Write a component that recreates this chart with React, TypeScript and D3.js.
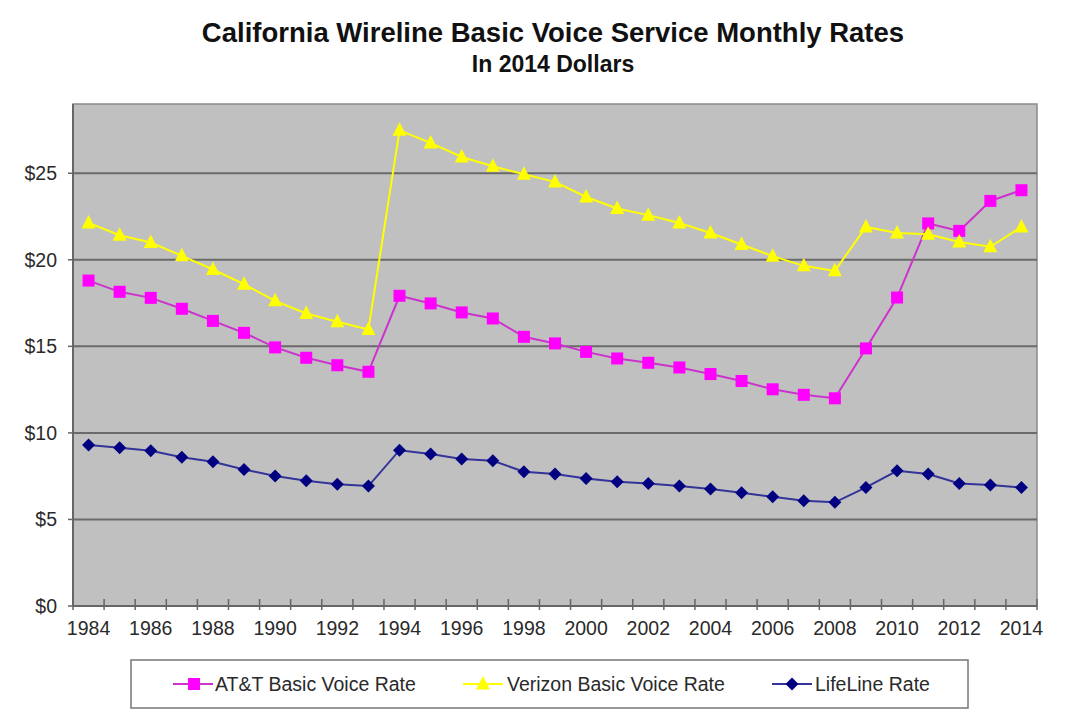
import React from "react";
import * as d3 from "d3";

const years: number[] = [
  1984, 1985, 1986, 1987, 1988, 1989, 1990, 1991, 1992, 1993, 1994, 1995, 1996, 1997, 1998, 1999,
  2000, 2001, 2002, 2003, 2004, 2005, 2006, 2007, 2008, 2009, 2010, 2011, 2012, 2013, 2014,
];

const attRates: number[] = [
  18.8, 18.15, 17.8, 17.17, 16.47, 15.78, 14.94, 14.34, 13.91, 13.53, 17.92, 17.48, 16.96, 16.61, 15.55, 15.17,
  14.68, 14.3, 14.05, 13.78, 13.4, 13.0, 12.52, 12.2, 12.0, 14.88, 17.82, 22.1, 21.67, 23.4, 24.02,
];

const verizonRates: number[] = [
  22.13, 21.42, 21.0, 20.23, 19.44, 18.59, 17.63, 16.9, 16.42, 15.97, 27.48, 26.75, 25.94, 25.4, 24.94, 24.5,
  23.63, 22.96, 22.58, 22.13, 21.55, 20.88, 20.21, 19.65, 19.36, 21.9, 21.55, 21.48, 21.03, 20.75, 21.9,
];

const lifelineRates: number[] = [
  9.3, 9.14, 8.97, 8.59, 8.33, 7.89, 7.51, 7.24, 7.03, 6.93, 9.0, 8.78, 8.49, 8.39, 7.76, 7.62,
  7.37, 7.18, 7.08, 6.93, 6.76, 6.54, 6.31, 6.08, 5.99, 6.85, 7.81, 7.62, 7.08, 6.99, 6.85,
];

const yTicks: number[] = [0, 5, 10, 15, 20, 25];
const yMax = 29;

const title = "California Wireline Basic Voice Service Monthly Rates";
const subtitle = "In 2014 Dollars";

const seriesNames: string[] = ["AT&T Basic Voice Rate", "Verizon Basic Voice Rate", "LifeLine Rate"];

const W = 1078;
const H = 715;
const plot = { left: 73, right: 1037, top: 104, bottom: 606 };

const FONT = "'Liberation Sans', Arial, Helvetica, sans-serif";

type Shape = "square" | "triangle" | "diamond";

function Marker({ shape, x, y, fill }: { shape: Shape; x: number; y: number; fill: string }) {
  if (shape === "square") {
    return <rect x={x - 6} y={y - 6} width={12} height={12} fill={fill} />;
  }
  if (shape === "triangle") {
    const s = 7;
    return (
      <path
        d={`M${x},${y - s - 1} L${x + s},${y + s - 1.5} L${x - s},${y + s - 1.5} Z`}
        fill={fill}
      />
    );
  }
  const s = 6.5;
  return <path d={`M${x},${y - s} L${x + s},${y} L${x},${y + s} L${x - s},${y} Z`} fill={fill} />;
}

export default function App() {
  const x = d3
    .scaleBand<number>()
    .domain(years)
    .range([plot.left, plot.right])
    .paddingInner(0)
    .paddingOuter(0);
  const cx = (yr: number) => (x(yr) as number) + x.bandwidth() / 2;
  const y = d3.scaleLinear().domain([0, yMax]).range([plot.bottom, plot.top]);

  const series = [
    { name: seriesNames[0], values: attRates, line: "#CC33CC", fill: "#FF00FF", shape: "square" as Shape },
    { name: seriesNames[1], values: verizonRates, line: "#FFFF00", fill: "#FFFF00", shape: "triangle" as Shape },
    { name: seriesNames[2], values: lifelineRates, line: "#333399", fill: "#000080", shape: "diamond" as Shape },
  ];

  const lineGen = d3
    .line<number>()
    .x((_, i) => cx(years[i]))
    .y((v) => y(v));

  const boundaries = d3.range(years.length + 1).map((i) => plot.left + i * x.bandwidth());

  const legendItems = [
    { lineX0: 173, markX: 194, lineX1: 213, textX: 215 },
    { lineX0: 463, markX: 483, lineX1: 503, textX: 507 },
    { lineX0: 772, markX: 792, lineX1: 812, textX: 815 },
  ];
  const legendY = 684;

  return (
    <svg
      width={W}
      height={H}
      style={{ position: "absolute", left: 0, top: 0, background: "#ffffff" }}
      fontFamily={FONT}
    >
      <rect x={0} y={0} width={W} height={H} fill="#ffffff" />
      <text x={553} y={42} textAnchor="middle" fontSize={27.5} fontWeight="bold" fill="#111">
        {title}
      </text>
      <text x={553} y={72} textAnchor="middle" fontSize={23} fontWeight="bold" fill="#111">
        {subtitle}
      </text>

      {/* plot area */}
      <rect
        x={plot.left}
        y={plot.top}
        width={plot.right - plot.left}
        height={plot.bottom - plot.top}
        fill="#C0C0C0"
        stroke="#8a8a8a"
        strokeWidth={1.5}
      />
      {yTicks
        .filter((t) => t > 0)
        .map((t) => (
          <line
            key={t}
            x1={plot.left}
            x2={plot.right}
            y1={y(t)}
            y2={y(t)}
            stroke="#6a6a6a"
            strokeWidth={2}
          />
        ))}

      {/* axes */}
      <line x1={plot.left} x2={plot.left} y1={plot.top} y2={plot.bottom} stroke="#666" strokeWidth={2} />
      <line x1={plot.left} x2={plot.right} y1={plot.bottom} y2={plot.bottom} stroke="#666" strokeWidth={2} />
      {yTicks.map((t) => (
        <g key={t}>
          <line x1={plot.left - 5} x2={plot.left} y1={y(t)} y2={y(t)} stroke="#666" strokeWidth={1.5} />
          <text
            x={57}
            y={y(t)}
            dy="0.35em"
            textAnchor="end"
            fontSize={19.5}
            fill="#2a2a2a"
          >
            {`$${t}`}
          </text>
        </g>
      ))}
      {boundaries.map((bx, i) => (
        <line
          key={i}
          x1={bx}
          x2={bx}
          y1={plot.bottom - 7}
          y2={plot.bottom + 4}
          stroke="#666"
          strokeWidth={1.5}
        />
      ))}
      {years.map((yr, i) =>
        i % 2 === 0 ? (
          <text key={yr} x={cx(yr)} y={635} textAnchor="middle" fontSize={19.5} fill="#2a2a2a">
            {yr}
          </text>
        ) : null
      )}

      {/* series */}
      {series.map((s) => (
        <g key={s.name}>
          <path d={lineGen(s.values) || ""} fill="none" stroke={s.line} strokeWidth={2} />
          {s.values.map((v, i) => (
            <Marker key={i} shape={s.shape} x={cx(years[i])} y={y(v)} fill={s.fill} />
          ))}
        </g>
      ))}

      {/* legend */}
      <rect x={131} y={660} width={837} height={48} fill="#ffffff" stroke="#777" strokeWidth={1.5} />
      {series.map((s, i) => {
        const li = legendItems[i];
        return (
          <g key={s.name}>
            <line x1={li.lineX0} x2={li.lineX1} y1={legendY} y2={legendY} stroke={s.line} strokeWidth={2} />
            <Marker shape={s.shape} x={li.markX} y={legendY} fill={s.fill} />
            <text x={li.textX} y={legendY} dy="0.35em" fontSize={19.5} fill="#2a2a2a">
              {s.name}
            </text>
          </g>
        );
      })}
    </svg>
  );
}
